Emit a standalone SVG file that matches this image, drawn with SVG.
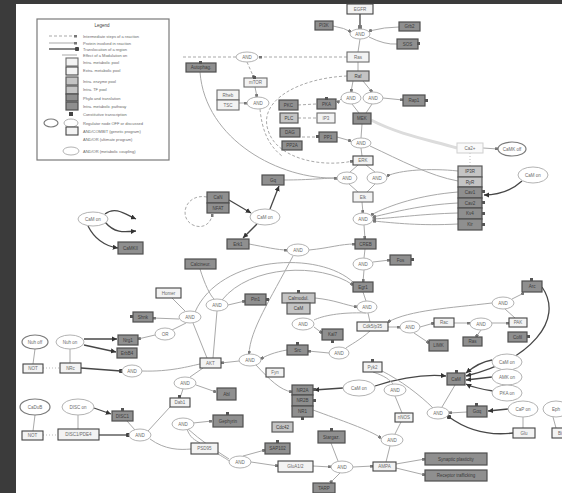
<svg xmlns="http://www.w3.org/2000/svg" width="562" height="493" viewBox="0 0 562 493">
<defs>
<style>
.d{fill:#8f8f8f;stroke:#4f4f4f;stroke-width:1.2}
.m{fill:#c4c4c4;stroke:#5a5a5a;stroke-width:1.2}
.l{fill:#f3f3f3;stroke:#6c6c6c;stroke-width:1.1}
.e{fill:#fff;stroke:#b3b3b3;stroke-width:1}
.eo{fill:#fff;stroke:#7a7a7a;stroke-width:1.2}
.t{font-family:"Liberation Sans",Arial,sans-serif;font-size:4.5px;fill:#6a6a6a;text-anchor:middle}
.td{font-family:"Liberation Sans",Arial,sans-serif;font-size:4.5px;fill:#3c3c3c;text-anchor:middle}
.lt{font-family:"Liberation Sans",Arial,sans-serif;font-size:4px;fill:#6a6a6a}
.c{fill:none;stroke:#a9a9a9;stroke-width:1}
.k{fill:none;stroke:#474747;stroke-width:1.3}
.ds{fill:none;stroke:#a9a9a9;stroke-width:1;stroke-dasharray:3 2}
.dt{fill:none;stroke:#bbb;stroke-width:1;stroke-dasharray:1 2}
.mk{fill:#555}
</style>
<marker id="sq" viewBox="0 0 4 4" refX="4" refY="2" markerWidth="3" markerHeight="3" orient="auto"><rect width="4" height="4" fill="#777"/></marker>
<marker id="ar" viewBox="0 0 6 6" refX="6" refY="3" markerWidth="4" markerHeight="4" orient="auto"><path d="M0,0L6,3L0,6z" fill="#333"/></marker>
<marker id="dot" viewBox="0 0 4 4" refX="2" refY="2" markerWidth="3.5" markerHeight="3.5"><circle cx="2" cy="2" r="2" fill="#444"/></marker>
</defs>
<rect width="562" height="493" fill="#fff"/>
<rect x="0" y="0" width="16" height="493" fill="#3b3b3b"/>
<rect x="0" y="0" width="562" height="4" fill="#3b3b3b"/>

<g id="legend">
<rect x="37" y="19" width="132" height="141" fill="#fff" stroke="#7a7a7a" stroke-width="1.2"/>
<text x="102" y="27" class="td" style="font-size:4.5px">Legend</text>
<path class="ds" d="M49,36 L77,36" marker-end="url(#sq)"/>
<path class="c" d="M49,43 L77,43" marker-end="url(#sq)"/>
<path class="k" d="M49,49 L77,49" marker-end="url(#dot)"/>
<path class="c" d="M62,55 L77,55"/>
<rect class="l" x="66" y="58" width="12" height="8"/>
<rect class="l" x="66" y="67" width="12" height="8" style="stroke:#444"/>
<rect class="m" x="66" y="77" width="12" height="8"/>
<rect class="m" x="66" y="86" width="12" height="8"/>
<rect class="d" x="66" y="94" width="12" height="7"/>
<rect class="d" x="66" y="102" width="12" height="8"/>
<rect x="69" y="112" width="4" height="4" fill="#444"/>
<ellipse class="eo" cx="51" cy="123" rx="7" ry="4"/>
<ellipse class="e" cx="71" cy="123" rx="7" ry="4"/>
<rect class="l" x="66" y="127" width="12" height="8" style="stroke:#444"/>
<ellipse class="e" cx="71" cy="151" rx="8" ry="4"/>
<text class="lt" x="83" y="37.5">Intermediate steps of a reaction</text>
<text class="lt" x="83" y="44.5">Protein involved in reaction</text>
<text class="lt" x="83" y="50.5">Translocation of a region</text>
<text class="lt" x="83" y="56.5">Effect of a Modulation on</text>
<text class="lt" x="83" y="63.5">Intra. metabolic pool</text>
<text class="lt" x="83" y="72">Extra. metabolic pool</text>
<text class="lt" x="83" y="82.5">Intra. enzyme pool</text>
<text class="lt" x="83" y="91">Intra. TF pool</text>
<text class="lt" x="83" y="99.5">Phylo and translation</text>
<text class="lt" x="83" y="107.5">Intra. metabolic pathway</text>
<text class="lt" x="83" y="116">Constitutive transcription</text>
<text class="lt" x="83" y="124.5">Regulator node OFF or discussed</text>
<text class="lt" x="83" y="132.5">AND/COMBIT (genetic program)</text>
<text class="lt" x="83" y="141">AND/OR (ultimate program)</text>
<text class="lt" x="83" y="152.5">AND/OR (metabolic coupling)</text>
</g>

<g id="connectors">
<path class="k" d="M360,14 L360,29" marker-end="url(#sq)"/>
<path class="c" d="M333,26 Q345,28 351,32" marker-end="url(#sq)"/>
<path class="c" d="M399,27 Q385,27 369,31" marker-end="url(#sq)"/>
<path class="c" d="M369,37 Q385,45 397,44"/>
<path class="c" d="M360,39 L358,52"/>
<path class="ds" d="M347,57 L259,57" marker-end="url(#sq)"/>
<path class="ds" d="M236,57 L182,57"/>
<path class="ds" d="M247,62 L254,78" marker-end="url(#sq)"/>
<path class="c" d="M358,62 L358,71"/>
<path class="c" d="M353,81 L351,92" marker-end="url(#sq)"/>
<path class="c" d="M363,81 L372,92" marker-end="url(#sq)"/>
<path class="c" d="M383,98 L403,100" marker-end="url(#sq)"/>
<path class="c" d="M341,99 L337,103" marker-end="url(#sq)"/>
<path class="c" d="M352,104 L359,113"/>
<path class="c" d="M372,104 L366,113"/>
<path class="c" d="M239,103 L247,103" marker-end="url(#sq)"/>
<path class="c" d="M255,87 L257,97" marker-end="url(#sq)"/>
<path class="ds" d="M347,76 C300,78 258,100 268,130 C276,158 320,168 353,161" marker-end="url(#sq)"/>
<path class="ds" d="M260,109 C262,130 268,145 282,156"/>
<path class="ds" d="M298,105 L316,104"/>
<path class="ds" d="M298,118 L316,118"/>
<path class="ds" d="M302,137 L318,137"/>
<path class="c" d="M200,72 C205,140 280,180 337,178" marker-end="url(#sq)"/>
<path class="c" d="M362,124 L361,138"/>
<path class="c" d="M361,148 L362,156"/>
<path class="c" d="M337,137 L351,141" marker-end="url(#sq)"/>
<path d="M371,120 C400,135 430,140 457,148" fill="none" stroke="#dcdcdc" stroke-width="3"/>
<path class="c" d="M483,148 L498,149" marker-end="url(#sq)"/>
<path class="c" d="M370,146 C400,160 430,176 458,181"/>
<path class="c" d="M358,165 L350,172"/>
<path class="c" d="M366,165 L375,172"/>
<path class="c" d="M349,184 L358,192"/>
<path class="c" d="M375,184 L367,192"/>
<path class="c" d="M284,180 C310,180 325,178 337,178" marker-end="url(#sq)"/>
<path class="c" d="M458,171 C430,168 400,170 387,176" marker-end="url(#sq)"/>
<path class="c" d="M458,192 C420,195 390,205 371,215" marker-end="url(#sq)"/>
<path class="c" d="M458,203 C420,205 395,212 373,217" marker-end="url(#sq)"/>
<path class="c" d="M458,213 C420,214 395,218 373,219" marker-end="url(#sq)"/>
<path class="c" d="M458,224 C420,226 395,223 373,221" marker-end="url(#sq)"/>
<path class="c" d="M362,202 L363,213" marker-end="url(#sq)"/>
<path class="c" d="M364,225 L365,239" marker-end="url(#sq)"/>
<path class="k" d="M522,181 C510,192 498,195 484,195" marker-end="url(#ar)"/>
<path class="dt" d="M470,153 L470,166"/>
<path class="k" d="M229,200 L251,213" marker-end="url(#ar)"/>
<path class="k" d="M270,209 L279,186" marker-end="url(#ar)"/>
<path class="k" d="M257,224 L243,238" marker-end="url(#ar)"/>
<path class="ds" d="M207,197 C185,193 178,218 193,225 C204,230 212,222 212,214" marker-end="url(#sq)"/>
<path class="k" d="M105,214 C115,206 125,214 136,219" marker-end="url(#ar)"/>
<path class="k" d="M105,222 C115,234 125,232 136,231" marker-end="url(#ar)"/>
<path class="k" d="M88,226 C95,240 105,246 118,248" marker-end="url(#ar)"/>
<path class="c" d="M249,244 C265,247 278,250 287,250" marker-end="url(#sq)"/>
<path class="c" d="M309,250 C330,248 340,244 355,244" marker-end="url(#sq)"/>
<path class="c" d="M365,249 L364,258"/>
<path class="c" d="M373,262 L390,260" marker-end="url(#sq)"/>
<path class="c" d="M364,270 L363,282" marker-end="url(#sq)"/>
<path class="c" d="M293,256 C270,300 250,330 249,354" marker-end="url(#sq)"/>
<path class="c" d="M200,269 C205,285 210,295 214,299"/>
<path class="c" d="M222,300 C250,265 320,262 353,285" marker-end="url(#sq)"/>
<path class="c" d="M195,312 C220,255 320,250 354,283"/>
<path class="c" d="M228,305 L245,301" marker-end="url(#sq)"/>
<path class="c" d="M172,298 L185,311"/>
<path class="c" d="M179,319 L153,318" marker-end="url(#sq)"/>
<path class="c" d="M186,323 L172,330"/>
<path class="c" d="M155,335 L138,339" marker-end="url(#sq)"/>
<path class="c" d="M315,298 C335,300 345,305 357,307" marker-end="url(#sq)"/>
<path class="c" d="M363,292 L366,301"/>
<path class="c" d="M368,313 L370,322"/>
<path class="c" d="M388,327 L400,327" marker-end="url(#sq)"/>
<path class="c" d="M420,327 L434,323" marker-end="url(#sq)"/>
<path class="c" d="M454,323 L470,323" marker-end="url(#sq)"/>
<path class="c" d="M492,323 L509,323" marker-end="url(#sq)"/>
<path class="c" d="M492,303 C450,308 410,310 388,322" marker-end="url(#sq)"/>
<path class="c" d="M512,299 L524,293" marker-end="url(#sq)"/>
<path class="k" d="M542,287 C565,320 530,360 466,376" marker-end="url(#ar)"/>
<path class="c" d="M414,333 L429,343" marker-end="url(#sq)"/>
<path class="c" d="M481,330 L476,337" marker-end="url(#sq)"/>
<path class="c" d="M505,309 L515,318"/>
<path class="c" d="M366,313 C340,312 322,316 314,320"/>
<path class="c" d="M314,327 L322,333" marker-end="url(#sq)"/>
<path class="c" d="M370,331 C360,340 350,345 346,348"/>
<path class="c" d="M329,353 L308,351" marker-end="url(#sq)"/>
<path class="c" d="M287,350 C275,352 265,356 261,359" marker-end="url(#sq)"/>
<path class="c" d="M239,361 L221,363" marker-end="url(#sq)"/>
<path class="k" d="M81,368 L121,371" marker-end="url(#dot)"/>
<path class="c" d="M142,371 C170,372 190,366 200,364"/>
<path class="c" d="M207,358 L193,323"/>
<path class="c" d="M213,358 L217,311"/>
<path class="k" d="M84,339 L117,339" marker-end="url(#ar)"/>
<path class="k" d="M84,345 L116,352" marker-end="url(#ar)"/>
<path class="c" d="M35,349 L33,364"/>
<path class="c" d="M70,349 L70,363"/>
<path class="dt" d="M43,368 L60,368"/>
<path class="c" d="M256,365 C270,380 280,390 292,392" marker-end="url(#sq)"/>
<path class="k" d="M343,388 L314,390" marker-end="url(#ar)"/>
<path class="k" d="M375,386 C400,378 425,374 446,376" marker-end="url(#ar)"/>
<path class="c" d="M373,372 C385,376 390,380 393,384"/>
<path class="c" d="M395,396 L402,413"/>
<path class="c" d="M401,422 L395,434"/>
<path class="c" d="M313,410 C340,420 370,430 381,438" marker-end="url(#sq)"/>
<path class="c" d="M390,446 L386,462"/>
<path class="c" d="M353,467 L373,466" marker-end="url(#sq)"/>
<path class="c" d="M396,464 L425,459" marker-end="url(#sq)"/>
<path class="c" d="M396,468 L425,475" marker-end="url(#sq)"/>
<path class="c" d="M251,462 L278,466" marker-end="url(#sq)"/>
<path class="c" d="M313,466 L331,467" marker-end="url(#sq)"/>
<path class="c" d="M340,473 L330,483" marker-end="url(#sq)"/>
<path class="c" d="M331,443 L338,461"/>
<path class="c" d="M218,454 C225,458 228,460 229,461"/>
<path class="k" d="M492,360 C480,362 472,368 466,373" marker-end="url(#ar)"/>
<path class="k" d="M492,377 L466,380" marker-end="url(#ar)"/>
<path class="k" d="M493,391 C480,389 472,387 466,384" marker-end="url(#ar)"/>
<path class="k" d="M508,409 L488,411" marker-end="url(#ar)"/>
<path class="k" d="M513,433 C480,437 460,425 449,417" marker-end="url(#dot)"/>
<path class="c" d="M467,412 L449,413" marker-end="url(#sq)"/>
<path class="c" d="M433,408 C420,395 400,380 382,371"/>
<path class="c" d="M455,385 L442,407"/>
<path class="c" d="M523,417 L523,428"/>
<path class="c" d="M553,417 L556,428"/>
<path class="c" d="M196,385 L216,392" marker-end="url(#sq)"/>
<path class="c" d="M180,398 L183,389"/>
<path class="c" d="M190,377 L203,368"/>
<path class="c" d="M187,429 C190,438 195,440 200,443"/>
<path class="c" d="M148,431 L170,407"/>
<path class="c" d="M150,439 C165,450 180,450 191,449"/>
<path class="k" d="M99,435 L128,435" marker-end="url(#dot)"/>
<path class="k" d="M94,408 L111,414" marker-end="url(#ar)"/>
<path class="c" d="M127,421 L135,430"/>
<path class="c" d="M35,415 L33,431"/>
<path class="c" d="M78,415 L78,429"/>
<path class="dt" d="M43,435 L58,435"/>
<path class="c" d="M193,423 L212,421" marker-end="url(#sq)"/>
<path class="c" d="M243,456 L265,450" marker-end="url(#sq)"/>
<path class="c" d="M188,429 C200,440 215,450 229,459"/>
</g>

<g id="n1"><rect class="l" x="347" y="4" width="26" height="10" style="stroke:#444"/><text class="t" x="360" y="10.5">EGFR</text></g>
<g id="n2"><rect class="d" x="315" y="21" width="18" height="9"/><text class="td" x="324" y="27">PI3K</text></g>
<g id="n3"><rect class="d" x="399" y="22" width="21" height="9"/><text class="td" x="409.5" y="28">Grb2</text></g>
<g id="n4"><rect class="d" x="397" y="39" width="21" height="10"/><rect class="mk" x="417" y="42" width="3" height="3"/><text class="td" x="407.5" y="45.5">SOS</text></g>
<g id="n5"><rect class="l" x="347" y="52" width="22" height="10"/><text class="t" x="358" y="58.5">Ras</text></g>
<g id="n6"><rect class="m" x="347" y="71" width="22" height="10"/><text class="td" x="358" y="77.5">Raf</text></g>
<g id="n7"><rect class="l" x="244" y="78" width="23" height="9"/><rect class="mk" x="253" y="76" width="3" height="3"/><text class="t" x="255.5" y="84">mTOR</text></g>
<g id="n8"><rect class="l" x="217" y="90" width="22" height="10"/><text class="t" x="228" y="96.5">Rheb</text></g>
<g id="n9"><rect class="l" x="217" y="100" width="22" height="10"/><text class="t" x="228" y="106.5">TSC</text></g>
<g id="n10"><rect class="d" x="186" y="63" width="30" height="9"/><rect class="mk" x="199" y="61" width="3" height="3"/><text class="td" x="201" y="69">Autophag.</text></g>
<g id="n11"><rect class="d" x="279" y="100" width="19" height="10"/><text class="td" x="288.5" y="106.5">PKC</text></g>
<g id="n12"><rect class="d" x="317" y="99" width="19" height="10"/><rect class="mk" x="325" y="97" width="3" height="3"/><text class="td" x="326.5" y="105.5">PKA</text></g>
<g id="n13"><rect class="m" x="280" y="113" width="18" height="10"/><text class="td" x="289" y="119.5">PLC</text></g>
<g id="n14"><rect class="l" x="317" y="113" width="18" height="10"/><text class="t" x="326" y="119.5">IP3</text></g>
<g id="n15"><rect class="d" x="353" y="113" width="18" height="11"/><text class="td" x="362" y="120">MEK</text></g>
<g id="n16"><rect class="d" x="280" y="128" width="20" height="9"/><text class="td" x="290" y="134">DAG</text></g>
<g id="n17"><rect class="d" x="282" y="141" width="20" height="9"/><text class="td" x="292" y="147">PP2A</text></g>
<g id="n18"><rect class="d" x="319" y="132" width="18" height="10"/><rect class="mk" x="316" y="135" width="3" height="3"/><text class="td" x="328" y="138.5">PP1</text></g>
<g id="n19"><rect class="d" x="403" y="95" width="22" height="11"/><rect class="mk" x="425" y="99" width="3" height="3"/><text class="td" x="414" y="102">Rap1</text></g>
<g id="n20"><rect class="l" x="353" y="156" width="20" height="9" style="stroke:#444"/><text class="t" x="363" y="162">ERK</text></g>
<g id="n21"><rect x="457" y="143" width="26" height="10" fill="#fafafa" stroke="#cfcfcf"/><text class="t" x="470" y="149.5">Ca2+</text></g>
<g id="n22"><rect class="m" x="458" y="166" width="24" height="11"/><text class="td" x="470" y="173">IP3R</text></g>
<g id="n23"><rect class="m" x="458" y="177" width="24" height="10"/><text class="td" x="470" y="183.5">RyR</text></g>
<g id="n24"><rect class="d" x="458" y="187" width="24" height="11"/><rect class="mk" x="482" y="190" width="3" height="3"/><text class="td" x="470" y="194">Cav1</text></g>
<g id="n25"><rect class="d" x="458" y="198" width="24" height="10"/><rect class="mk" x="482" y="201" width="3" height="3"/><text class="td" x="470" y="204.5">Cav2</text></g>
<g id="n26"><rect class="d" x="458" y="208" width="24" height="11"/><rect class="mk" x="482" y="212" width="3" height="3"/><text class="td" x="470" y="215">Kv4</text></g>
<g id="n27"><rect class="d" x="458" y="219" width="24" height="11"/><rect class="mk" x="482" y="223" width="3" height="3"/><text class="td" x="470" y="226">Kir</text></g>
<g id="n28"><rect class="d" x="262" y="175" width="22" height="10"/><text class="td" x="273" y="181.5">Gq</text></g>
<g id="n29"><rect class="l" x="353" y="192" width="20" height="10"/><text class="t" x="363" y="198.5">Elk</text></g>
<g id="n30"><rect class="d" x="207" y="192" width="22" height="11"/><text class="td" x="218" y="199">CaN</text></g>
<g id="n31"><rect class="d" x="207" y="203" width="22" height="10"/><text class="td" x="218" y="209.5">NFAT</text></g>
<g id="n32"><rect class="d" x="227" y="239" width="22" height="10"/><text class="td" x="238" y="245.5">Erk1</text></g>
<g id="n33"><rect class="d" x="355" y="239" width="21" height="10"/><text class="td" x="365.5" y="245.5">CREB</text></g>
<g id="n34"><rect class="d" x="390" y="255" width="21" height="10"/><rect class="mk" x="411" y="258" width="3" height="3"/><text class="td" x="400.5" y="261.5">Fos</text></g>
<g id="n35"><rect class="d" x="118" y="242" width="25" height="12"/><text class="td" x="130.5" y="249.5">CaMKII</text></g>
<g id="n36"><rect class="d" x="185" y="259" width="31" height="10"/><text class="td" x="200.5" y="265.5">Calcineur.</text></g>
<g id="n37"><rect class="d" x="353" y="282" width="20" height="10"/><text class="td" x="363" y="288.5">Egr1</text></g>
<g id="n38"><rect class="d" x="522" y="281" width="20" height="11"/><rect class="mk" x="530" y="278" width="3" height="3"/><text class="td" x="532" y="288">Arc</text></g>
<g id="n39"><rect class="l" x="156" y="288" width="25" height="10" style="stroke:#444"/><text class="t" x="168.5" y="294.5">Homer</text></g>
<g id="n40"><rect class="d" x="245" y="294" width="21" height="11"/><rect class="mk" x="266" y="298" width="3" height="3"/><text class="td" x="255.5" y="301">Pin1</text></g>
<g id="n41"><rect class="m" x="282" y="293" width="33" height="10"/><rect class="mk" x="297" y="290" width="3" height="3"/><text class="td" x="298.5" y="299.5">Calmodul.</text></g>
<g id="n42"><rect class="m" x="287" y="303" width="23" height="11"/><text class="td" x="298.5" y="310">CaM</text></g>
<g id="n43"><rect class="d" x="133" y="312" width="20" height="10"/><rect class="mk" x="130" y="315" width="3" height="3"/><text class="td" x="143" y="318.5">Shnk</text></g>
<g id="n44"><rect class="l" x="357" y="322" width="31" height="9" style="stroke:#444"/><text class="t" x="372.5" y="328">Cdk5/p35</text></g>
<g id="n45"><rect class="d" x="322" y="329" width="21" height="11"/><rect class="mk" x="331" y="340" width="3" height="3"/><text class="td" x="332.5" y="336">Kal7</text></g>
<g id="n46"><rect class="l" x="434" y="318" width="20" height="9" style="stroke:#444"/><text class="t" x="444" y="324">Rac</text></g>
<g id="n47"><rect class="l" x="509" y="318" width="18" height="9" style="stroke:#444"/><text class="t" x="518" y="324">PAK</text></g>
<g id="n48"><rect class="d" x="508" y="332" width="19" height="10"/><rect class="mk" x="527" y="335" width="3" height="3"/><text class="td" x="517.5" y="338.5">Cofil</text></g>
<g id="n49"><rect class="d" x="429" y="340" width="19" height="11"/><text class="td" x="438.5" y="347">LIMK</text></g>
<g id="n50"><rect class="d" x="463" y="337" width="19" height="9"/><text class="td" x="472.5" y="343">Ras</text></g>
<g id="n51"><rect class="d" x="118" y="335" width="20" height="10"/><text class="td" x="128" y="341.5">Nrg1</text></g>
<g id="n52"><rect class="d" x="117" y="348" width="20" height="10"/><text class="td" x="127" y="354.5">ErbB4</text></g>
<g id="n53"><rect class="l" x="23" y="364" width="20" height="9" style="stroke:#444"/><text class="t" x="33" y="370">NOT</text></g>
<g id="n54"><rect class="l" x="60" y="363" width="21" height="10" style="stroke:#444"/><text class="t" x="70.5" y="369.5">NRc</text></g>
<g id="n55"><rect class="l" x="200" y="358" width="21" height="10" style="stroke:#444"/><text class="t" x="210.5" y="364.5">AKT</text></g>
<g id="n56"><rect class="d" x="287" y="345" width="21" height="10"/><rect class="mk" x="296" y="342" width="3" height="3"/><text class="td" x="297.5" y="351.5">Src</text></g>
<g id="n57"><rect class="l" x="363" y="362" width="19" height="10" style="stroke:#444"/><rect class="mk" x="371" y="359" width="3" height="3"/><text class="t" x="372.5" y="368.5">Pyk2</text></g>
<g id="n58"><rect class="l" x="266" y="368" width="18" height="9" style="stroke:#444"/><text class="t" x="275" y="374">Fyn</text></g>
<g id="n59"><rect class="d" x="447" y="373" width="18" height="12"/><rect class="mk" x="455" y="370" width="3" height="3"/><text class="td" x="456" y="380.5">CaM</text></g>
<g id="n60"><rect class="d" x="292" y="385" width="21" height="10"/><rect class="mk" x="313" y="388" width="3" height="3"/><text class="td" x="302.5" y="391.5">NR2A</text></g>
<g id="n61"><rect class="d" x="292" y="395" width="21" height="11"/><rect class="mk" x="313" y="399" width="3" height="3"/><text class="td" x="302.5" y="402">NR2B</text></g>
<g id="n62"><rect class="d" x="292" y="406" width="21" height="11"/><rect class="mk" x="301" y="417" width="3" height="3"/><text class="td" x="302.5" y="413">NR1</text></g>
<g id="n63"><rect class="d" x="217" y="388" width="19" height="12"/><text class="td" x="226.5" y="395.5">Abl</text></g>
<g id="n64"><rect class="l" x="170" y="398" width="20" height="9" style="stroke:#444"/><rect class="mk" x="178" y="395" width="3" height="3"/><text class="t" x="180" y="404">Dab1</text></g>
<g id="n65"><rect class="l" x="395" y="413" width="18" height="9" style="stroke:#444"/><text class="t" x="404" y="419">nNOS</text></g>
<g id="n66"><rect class="d" x="467" y="406" width="20" height="11"/><rect class="mk" x="475" y="403" width="3" height="3"/><text class="td" x="477" y="413">Gαq</text></g>
<g id="n67"><rect class="d" x="112" y="411" width="21" height="10"/><rect class="mk" x="121" y="408" width="3" height="3"/><text class="td" x="122.5" y="417.5">DISC1</text></g>
<g id="n68"><rect class="l" x="22" y="431" width="21" height="9" style="stroke:#444"/><text class="t" x="32.5" y="437">NOT</text></g>
<g id="n69"><rect class="l" x="58" y="429" width="41" height="11" style="stroke:#444"/><text class="t" x="78.5" y="436">DISC1/PDE4</text></g>
<g id="n70"><rect class="d" x="213" y="415" width="30" height="12"/><rect class="mk" x="226" y="412" width="3" height="3"/><text class="td" x="228" y="422.5">Gephyrin</text></g>
<g id="n71"><rect class="m" x="272" y="422" width="21" height="10"/><text class="td" x="282.5" y="428.5">Cdc42</text></g>
<g id="n72"><rect class="d" x="318" y="431" width="27" height="12"/><rect class="mk" x="330" y="428" width="3" height="3"/><text class="td" x="331.5" y="438.5">Stargaz.</text></g>
<g id="n73"><rect class="l" x="513" y="428" width="22" height="10" style="stroke:#444"/><text class="t" x="524" y="434.5">Glu</text></g>
<g id="n74"><rect class="l" x="552" y="428" width="14" height="10" style="stroke:#444"/><text class="t" x="560" y="434.5">Bi</text></g>
<g id="n75"><rect class="l" x="191" y="443" width="27" height="11" style="stroke:#444"/><text class="t" x="204.5" y="450">PSD95</text></g>
<g id="n76"><rect class="d" x="265" y="443" width="25" height="11"/><rect class="mk" x="276" y="440" width="3" height="3"/><text class="td" x="277.5" y="450">SAP102</text></g>
<g id="n77"><rect class="l" x="278" y="461" width="35" height="11" style="stroke:#444"/><text class="t" x="295.5" y="468">GluA1/2</text></g>
<g id="n78"><rect class="l" x="373" y="462" width="23" height="9" style="stroke:#444"/><text class="t" x="384.5" y="468">AMPA</text></g>
<g id="n79"><rect class="d" x="425" y="453" width="62" height="12"/><text class="td" x="456" y="460.5">Synaptic plasticity</text></g>
<g id="n80"><rect class="d" x="425" y="470" width="62" height="11"/><text class="td" x="456" y="477">Receptor trafficking</text></g>
<g id="n81"><rect class="d" x="313" y="483" width="22" height="10"/><text class="td" x="324" y="489.5">TARP</text></g>

<g id="e1"><ellipse class="e" cx="360" cy="34" rx="10" ry="5"/><text class="t" x="360" y="35.5">AND</text></g>
<g id="e2"><ellipse class="e" cx="247" cy="57" rx="11" ry="5"/><text class="t" x="247" y="58.5">AND</text></g>
<g id="e3"><ellipse class="e" cx="258" cy="103" rx="11" ry="6"/><text class="t" x="258" y="104.5">AND</text></g>
<g id="e4"><ellipse class="e" cx="351" cy="98" rx="10" ry="6"/><text class="t" x="351" y="99.5">AND</text></g>
<g id="e5"><ellipse class="e" cx="373" cy="98" rx="10" ry="6"/><text class="t" x="373" y="99.5">AND</text></g>
<g id="e6"><ellipse class="e" cx="361" cy="143" rx="10" ry="5"/><text class="t" x="361" y="144.5">AND</text></g>
<g id="e7"><ellipse class="eo" cx="512" cy="149" rx="14" ry="7"/><text class="t" x="512" y="150.5">CaMK off</text></g>
<g id="e8"><ellipse class="e" cx="347" cy="178" rx="10" ry="6"/><text class="t" x="347" y="179.5">AND</text></g>
<g id="e9"><ellipse class="e" cx="377" cy="178" rx="10" ry="6"/><text class="t" x="377" y="179.5">AND</text></g>
<g id="e10"><ellipse class="e" cx="533" cy="175" rx="15" ry="8"/><text class="t" x="533" y="176.5">CaM on</text></g>
<g id="e11"><ellipse class="e" cx="363" cy="219" rx="10" ry="6"/><text class="t" x="363" y="220.5">AND</text></g>
<g id="e12"><ellipse class="e" cx="265" cy="217" rx="15" ry="8"/><text class="t" x="265" y="218.5">CaM on</text></g>
<g id="e13"><ellipse class="e" cx="93" cy="219" rx="15" ry="7"/><text class="t" x="93" y="220.5">CaM on</text></g>
<g id="e14"><ellipse class="e" cx="298" cy="250" rx="11" ry="6"/><text class="t" x="298" y="251.5">AND</text></g>
<g id="e15"><ellipse class="e" cx="363" cy="264" rx="10" ry="6"/><text class="t" x="363" y="265.5">AND</text></g>
<g id="e16"><ellipse class="e" cx="217" cy="305" rx="11" ry="6"/><text class="t" x="217" y="306.5">AND</text></g>
<g id="e17"><ellipse class="e" cx="367" cy="307" rx="10" ry="6"/><text class="t" x="367" y="308.5">AND</text></g>
<g id="e18"><ellipse class="e" cx="503" cy="303" rx="11" ry="6"/><text class="t" x="503" y="304.5">AND</text></g>
<g id="e19"><ellipse class="e" cx="190" cy="317" rx="11" ry="6"/><text class="t" x="190" y="318.5">AND</text></g>
<g id="e20"><ellipse class="e" cx="303" cy="324" rx="11" ry="6"/><text class="t" x="303" y="325.5">AND</text></g>
<g id="e21"><ellipse class="e" cx="410" cy="327" rx="10" ry="6"/><text class="t" x="410" y="328.5">AND</text></g>
<g id="e22"><ellipse class="e" cx="481" cy="324" rx="11" ry="6"/><text class="t" x="481" y="325.5">AND</text></g>
<g id="e23"><ellipse class="e" cx="165" cy="334" rx="10" ry="6"/><text class="t" x="165" y="335.5">OR</text></g>
<g id="e24"><ellipse class="eo" cx="35" cy="342" rx="13" ry="7"/><text class="t" x="35" y="343.5">Nuh off</text></g>
<g id="e25"><ellipse class="e" cx="70" cy="342" rx="14" ry="7"/><text class="t" x="70" y="343.5">Nuh on</text></g>
<g id="e26"><ellipse class="e" cx="132" cy="371" rx="10" ry="6"/><text class="t" x="132" y="372.5">AND</text></g>
<g id="e27"><ellipse class="e" cx="250" cy="360" rx="11" ry="6"/><text class="t" x="250" y="361.5">AND</text></g>
<g id="e28"><ellipse class="e" cx="339" cy="353" rx="10" ry="6"/><text class="t" x="339" y="354.5">AND</text></g>
<g id="e29"><ellipse class="e" cx="507" cy="362" rx="15" ry="8"/><text class="t" x="507" y="363.5">CaM on</text></g>
<g id="e30"><ellipse class="e" cx="507" cy="377" rx="15" ry="8"/><text class="t" x="507" y="378.5">AMK on</text></g>
<g id="e31"><ellipse class="e" cx="507" cy="393" rx="15" ry="8"/><text class="t" x="507" y="394.5">PKA on</text></g>
<g id="e32"><ellipse class="e" cx="359" cy="388" rx="16" ry="8"/><text class="t" x="359" y="389.5">CaM on</text></g>
<g id="e33"><ellipse class="e" cx="395" cy="390" rx="11" ry="6"/><text class="t" x="395" y="391.5">AND</text></g>
<g id="e34"><ellipse class="e" cx="185" cy="383" rx="11" ry="6"/><text class="t" x="185" y="384.5">AND</text></g>
<g id="e35"><ellipse class="e" cx="438" cy="413" rx="11" ry="6"/><text class="t" x="438" y="414.5">AND</text></g>
<g id="e36"><ellipse class="e" cx="523" cy="409" rx="15" ry="8"/><text class="t" x="523" y="410.5">CaP on</text></g>
<g id="e37"><ellipse class="e" cx="556" cy="409" rx="13" ry="8"/><text class="t" x="556" y="410.5">Eph</text></g>
<g id="e38"><ellipse class="eo" cx="35" cy="407" rx="15" ry="8"/><text class="t" x="35" y="408.5">CaDuB</text></g>
<g id="e39"><ellipse class="e" cx="78" cy="407" rx="16" ry="8"/><text class="t" x="78" y="408.5">DISC on</text></g>
<g id="e40"><ellipse class="e" cx="140" cy="435" rx="11" ry="6"/><text class="t" x="140" y="436.5">AND</text></g>
<g id="e41"><ellipse class="e" cx="183" cy="424" rx="11" ry="6"/><text class="t" x="183" y="425.5">AND</text></g>
<g id="e42"><ellipse class="e" cx="392" cy="440" rx="11" ry="6"/><text class="t" x="392" y="441.5">AND</text></g>
<g id="e43"><ellipse class="e" cx="240" cy="462" rx="11" ry="6"/><text class="t" x="240" y="463.5">AND</text></g>
<g id="e44"><ellipse class="e" cx="342" cy="467" rx="11" ry="6"/><text class="t" x="342" y="468.5">AND</text></g>
</svg>
